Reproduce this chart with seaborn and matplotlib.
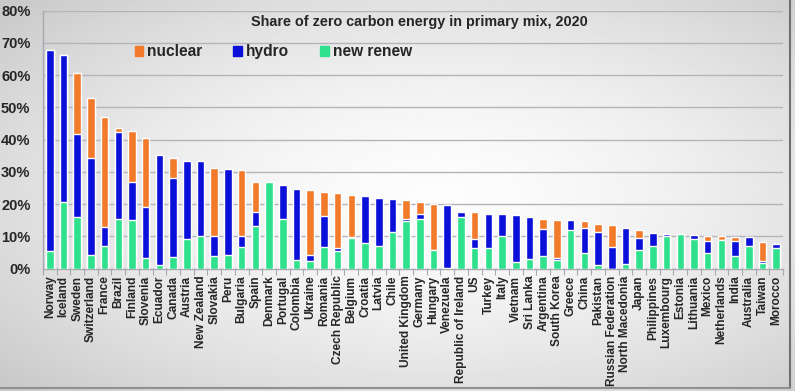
import numpy as np
import pandas as pd
import seaborn as sns
import matplotlib.pyplot as plt
from matplotlib.patches import Patch
from matplotlib.lines import Line2D
from matplotlib.ticker import FixedLocator

countries = [
    "Norway", "Iceland", "Sweden", "Switzerland", "France", "Brazil", "Finland",
    "Slovenia", "Ecuador", "Canada", "Austria", "New Zealand", "Slovakia", "Peru",
    "Bulgaria", "Spain", "Denmark", "Portugal", "Colombia", "Ukraine", "Romania",
    "Czech Republic", "Belgium", "Croatia", "Latvia", "Chile", "United Kingdom",
    "Germany", "Hungary", "Venezuela", "Republic of Ireland", "US", "Turkey",
    "Italy", "Vietnam", "Sri Lanka", "Argentina", "South Korea", "Greece", "China",
    "Pakistan", "Russian Federation", "North Macedonia", "Japan", "Philippines",
    "Luxembourg", "Estonia", "Lithuania", "Mexico", "Netherlands", "India",
    "Australia", "Taiwan", "Morocco",
]

# shares in % of primary energy
new_renew = [
    5.5, 20.7, 16.0, 4.1, 7.0, 15.3, 15.0, 3.3, 1.0, 3.6, 9.2, 10.2, 3.9, 4.1,
    6.6, 13.3, 26.7, 15.5, 2.8, 2.4, 6.7, 5.5, 9.6, 7.8, 6.9, 11.4, 14.8,
    15.4, 5.7, 0.2, 16.0, 6.5, 6.5, 10.1, 1.9, 2.9, 3.8, 2.8, 12.1, 4.7,
    1.0, 0.0, 1.3, 5.9, 7.1, 10.0, 10.6, 9.2, 4.9, 9.0, 4.0, 7.1, 1.6, 6.4,
]
hydro = [
    62.3, 45.6, 25.6, 30.2, 5.9, 26.9, 11.8, 15.9, 34.1, 24.5, 24.3, 23.2, 6.2, 26.7,
    3.6, 4.4, 0.2, 10.4, 22.0, 1.7, 9.6, 0.9, 0.1, 14.6, 15.1, 10.2, 0.7,
    1.4, 0.2, 19.4, 1.5, 2.8, 10.4, 6.8, 14.7, 13.1, 8.5, 0.5, 2.9, 7.8,
    10.4, 6.7, 11.3, 3.7, 3.8, 0.7, 0.1, 1.2, 3.7, 0.0, 4.6, 2.6, 0.7, 1.3,
]
nuclear = [
    0.0, 0.0, 19.0, 18.5, 34.2, 1.3, 15.8, 21.2, 0.0, 6.2, 0.0, 0.0, 21.2, 0.0,
    20.3, 9.2, 0.0, 0.0, 0.0, 20.2, 7.4, 16.9, 13.0, 0.0, 0.0, 0.0, 5.7,
    4.0, 14.1, 0.0, 0.0, 8.2, 0.0, 0.0, 0.0, 0.0, 3.1, 11.7, 0.0, 2.3,
    2.4, 6.8, 0.0, 2.5, 0.0, 0.0, 0.0, 0.0, 1.6, 1.1, 1.3, 0.0, 5.8, 0.0,
]

df = pd.DataFrame({"country": countries, "new renew": new_renew,
                   "hydro": hydro, "nuclear": nuclear})
df["renew_hydro"] = df["new renew"] + df["hydro"]
df["total"] = df["renew_hydro"] + df["nuclear"]

c_nuc = "#F27B2B"
c_hyd = "#0A10D8"
c_new = "#2FE08C"

sns.set_theme(style="white")
plt.rcParams["font.family"] = ["Liberation Sans", "DejaVu Sans"]

fig = plt.figure(figsize=(7.95, 3.91), dpi=100)

# grey slide-like background with a lighter centre
bg = fig.add_axes([0, 0, 1, 1], zorder=-5)
yy, xx = np.mgrid[0:1:200j, 0:1:400j]
r = np.sqrt(((xx - 0.55) / 0.75) ** 2 + ((yy - 0.5) / 0.75) ** 2)
bg.imshow(0.99 - 0.21 * np.clip(r, 0, 1) ** 1.6, cmap="gray", vmin=0, vmax=1,
          aspect="auto", extent=[0, 1, 0, 1])
bg.axis("off")

ax = fig.add_axes([0.054, 0.313, 0.931, 0.66])
ax.patch.set_alpha(0)

w = 0.55
sns.barplot(data=df, x="country", y="total", color=c_nuc, width=w,
            saturation=1, ax=ax, zorder=3)
sns.barplot(data=df, x="country", y="renew_hydro", color=c_hyd, width=w,
            saturation=1, ax=ax, zorder=3)
sns.barplot(data=df, x="country", y="new renew", color=c_new, width=w,
            saturation=1, ax=ax, zorder=3)

ax.set_xlim(-0.5, len(countries) - 0.5)
ax.set_ylim(0, 80)
ax.set_yticks(range(0, 81, 10))
ax.set_yticklabels([f"{v}%" for v in range(0, 81, 10)], fontsize=10.5,
                   fontweight="bold")
ax.set_xticklabels(countries, rotation=90, fontsize=8.6, fontweight="bold")
ax.set_xlabel("")
ax.set_ylabel("")
ax.tick_params(axis="x", which="major", length=0, pad=5)
ax.tick_params(axis="y", length=0, pad=9)
ax.xaxis.set_minor_locator(FixedLocator(np.arange(-0.5, len(countries), 1)))
ax.tick_params(axis="x", which="minor", bottom=True, length=4, width=0.8,
               color="#a8a8b0")
ax.grid(axis="y", color="#b4b4bc", linewidth=1, zorder=0)
for s in ["top", "right"]:
    ax.spines[s].set_visible(False)
for s in ["left", "bottom"]:
    ax.spines[s].set_color("#a8a8b0")
    ax.spines[s].set_linewidth(1)

ax.text(0.508, 0.955, "Share of zero carbon energy in primary mix, 2020",
        transform=ax.transAxes, ha="center", va="center", fontsize=10.4,
        fontweight="bold")

handles = [Patch(color=c_nuc, label="nuclear"), Patch(color=c_hyd, label="hydro"),
           Patch(color=c_new, label="new renew")]
leg = ax.legend(handles=handles, ncol=3, frameon=False, loc="center left",
                bbox_to_anchor=(0.105, 0.84), prop={"weight": "bold", "size": 11.2},
                handlelength=0.55, handleheight=0.55, handletextpad=0.25,
                columnspacing=2.0)

# slide edge lines
fig.add_artist(Line2D([0.994, 0.994], [0.008, 1.0], color="#707070", lw=1.5))
fig.add_artist(Line2D([0, 0.994], [0.008, 0.008], color="#909090", lw=1.5))

fig.savefig("out.png", dpi=100)
